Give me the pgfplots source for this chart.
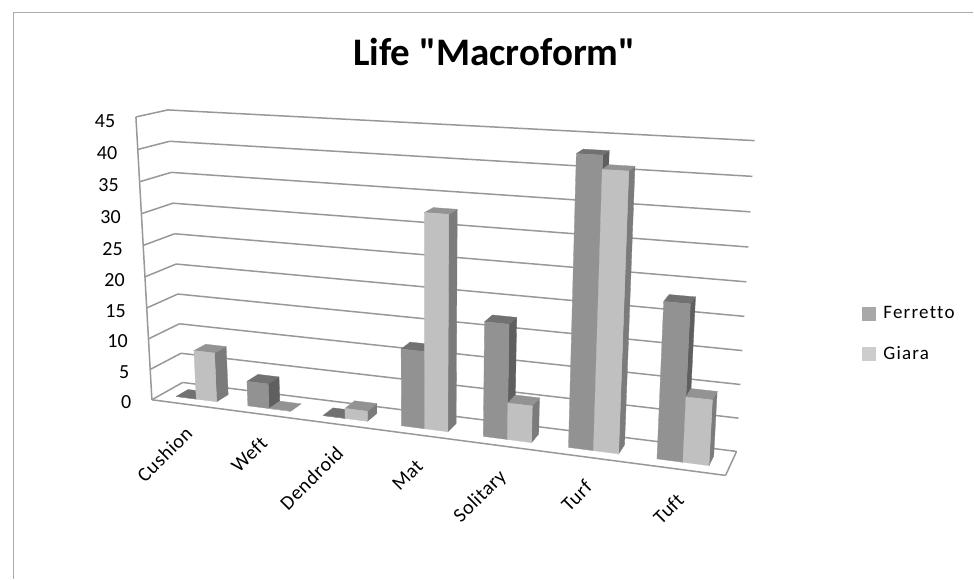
\documentclass[border=0pt]{standalone}
\usepackage{pgfplots}
\usepackage{pgfplotstable}
\usepackage{fontspec}
\setmainfont{Carlito}
\newfontfamily\titlef{Carlito}
\newfontfamily\lsleg[LetterSpace=6.5,Ligatures=NoCommon]{Carlito}
\newfontfamily\lscat[LetterSpace=3,Ligatures=NoCommon]{Carlito}
\pgfplotsset{compat=1.18}
\definecolor{gridc}{HTML}{989898}
\definecolor{ffront}{HTML}{929292}
\definecolor{ftop}{HTML}{717171}
\definecolor{fside}{HTML}{5F5F5F}
\definecolor{gfront}{HTML}{C0C0C0}
\definecolor{gtop}{HTML}{939393}
\definecolor{gside}{HTML}{7B7B7B}
\tikzset{tl/.style={anchor=east,font=\fontsize{20}{22}\selectfont,inner sep=0pt},
  cl/.style={anchor=east,rotate=45,font=\lscat\fontsize{20}{22}\selectfont,inner sep=0pt}}
\pgfplotstableread{
cat Ferretto Giara
0 0 8
1 4 0
2 0 1.6
3 12 33
4 17.5 5.6
5 43 41
6 23 9.6
}\lifedata
% (category position, depth 0..1, value) -> picture position
\newcommand\prj[4]{%
  \pgfmathsetmacro\Ua{(#1)/7}%
  \pgfmathsetmacro\U{.856*\Ua+.144*\Ua*\Ua}%
  \pgfmathsetmacro\V{#2}%
  \pgfmathsetmacro\Wa{(#3)/45}%
  \pgfmathsetmacro\W{.96*\Wa+.04*\Wa*\Wa}%
  \pgfmathsetmacro\px{(1-\W)*((1-\V)*((1-\U)*152+\U*726)+\V*((1-\U)*182.7+\U*737))+\W*((1-\V)*((1-\U)*136+\U*743.5)+\V*((1-\U)*168+\U*755))}%
  \pgfmathsetmacro\py{(1-\W)*((1-\V)*((1-\U)*400+\U*475.7)+\V*((1-\U)*382.7+\U*451.7))+\W*((1-\V)*((1-\U)*117+\U*152.7)+\V*((1-\U)*110+\U*140.7))}%
  \edef#4{(\px,\py)}%
}
\newcommand\poly[5]{% colour, four corners
  \edef\tmp{\noexpand\addplot[fill=#1,draw=#1,line width=.3pt,forget plot] coordinates {#2 #3 #4 #5} -- cycle;}\tmp}
\newcommand\wline[2]{% two ends (c,d,v)
  \prj #1\pA \prj #2\pB
  \edef\tmp{\noexpand\addplot[color=gridc,line width=1.5pt,forget plot] coordinates {\pA\space\pB};}\tmp}
\newcommand\drawbar[6]{% cat, series, value, front, top, side
  \pgfmathsetmacro\ca{#1+.5+(#2-1)*.2857}%
  \pgfmathsetmacro\cb{\ca+.2857}%
  \prj{\ca}{.3}{0}\FBL \prj{\cb}{.3}{0}\FBR \prj{\cb}{.7}{0}\BBR
  \prj{\ca}{.3}{#3}\FTL \prj{\cb}{.3}{#3}\FTR \prj{\ca}{.7}{#3}\BTL \prj{\cb}{.7}{#3}\BTR
  \poly{#6}{\FBR}{\BBR}{\BTR}{\FTR}%
  \poly{#5}{\FTL}{\FTR}{\BTR}{\BTL}%
  \poly{#4}{\FBL}{\FBR}{\FTR}{\FTL}%
}
\newcommand\barsof[1]{%
  \pgfplotstablegetelem{#1}{Ferretto}\of\lifedata \let\vf\pgfplotsretval
  \pgfplotstablegetelem{#1}{Giara}\of\lifedata \let\vg\pgfplotsretval
  \drawbar{#1}{0}{\vf}{ffront}{ftop}{fside}%
  \drawbar{#1}{1}{\vg}{gfront}{gtop}{gside}%
}
\begin{document}
\begin{tikzpicture}
\begin{axis}[
  scale only axis, width=974pt, height=579pt,
  xmin=0, xmax=974, ymin=0, ymax=579, y dir=reverse,
  hide axis, clip=false,
  legend style={at={(axis cs:862.5,304.5)},anchor=north west,draw=none,fill=none,
    font=\lsleg\fontsize{19}{21}\selectfont,row sep=22pt,inner sep=0pt,outer sep=0pt},
  legend cell align=left,
  legend image code/.code={\fill[#1] (0pt,-7pt) rectangle (13pt,6pt);\path (19pt,0pt);},
]
\path (axis cs:0,0) rectangle (axis cs:974,579);
\addlegendimage{ffront!80!white}\addlegendentry{Ferretto}
\addlegendimage{gfront!80!white}\addlegendentry{Giara}
% chart border
\addplot[color=black!33,line width=1.2pt,forget plot] coordinates {(13.5,579) (13.5,12.5) (974,12.5)};
% walls
\pgfplotsinvokeforeach{0,5,10,15,20,25,30,35,40,45}{%
  \wline{{0}{0}{#1}}{{0}{1}{#1}}%
  \wline{{0}{1}{#1}}{{7}{1}{#1}}%
}
\wline{{0}{0}{0}}{{0}{0}{45}}
\wline{{0}{0}{0}}{{7}{0}{0}}
\wline{{7}{0}{0}}{{7}{1}{0}}
% bars
\barsof{0}\barsof{1}\barsof{2}\barsof{3}\barsof{4}\barsof{5}\barsof{6}
% texts
\node[anchor=base,inner sep=0pt,font=\titlef\bfseries\fontsize{39}{42}\selectfont] at (axis cs:494.7,66) {Life "Macroform"};
\node[tl] at (axis cs:131.5,402) {0};
\node[tl] at (axis cs:129.5,372) {5};
\node[tl] at (axis cs:128,341.5) {10};
\node[tl] at (axis cs:126,311) {15};
\node[tl] at (axis cs:125,280.5) {20};
\node[tl] at (axis cs:123,249) {25};
\node[tl] at (axis cs:121,217.5) {30};
\node[tl] at (axis cs:119,185.5) {35};
\node[tl] at (axis cs:117.5,153) {40};
\node[tl] at (axis cs:115.5,121) {45};
\node[cl] at (axis cs:189,430) {Cushion};
\node[cl] at (axis cs:264,440) {Weft};
\node[cl] at (axis cs:340,450) {Dendroid};
\node[cl] at (axis cs:420,463) {Mat};
\node[cl] at (axis cs:504,474) {Solitary};
\node[cl] at (axis cs:589,484) {Turf};
\node[cl] at (axis cs:681,497) {Tuft};
\end{axis}
\end{tikzpicture}
\end{document}
